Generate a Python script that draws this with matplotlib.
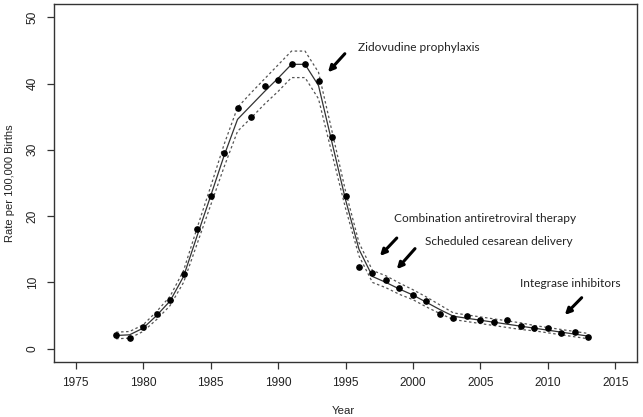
import matplotlib
matplotlib.use("Agg")
import matplotlib.pyplot as plt

years = list(range(1978, 2014))
observed = [2.1, 1.6, 3.3, 5.2, 7.3, 11.3, 18.0, 23.1, 29.5, 36.3, 34.9, 39.6,
            40.5, 42.9, 42.9, 40.4, 31.9, 23.0, 12.3, 11.4, 10.3, 9.2, 8.1, 7.2,
            5.3, 4.6, 5.0, 4.4, 4.1, 4.4, 3.5, 3.2, 3.1, 2.3, 2.6, 1.8]
fitted = [2.0, 2.1, 3.1, 5.0, 7.2, 10.9, 17.0, 23.0, 29.1, 34.6, 36.7, 38.8,
          40.8, 42.9, 42.9, 39.7, 31.1, 22.5, 15.0, 10.9, 10.0, 9.0, 8.1, 7.0,
          5.9, 4.9, 4.6, 4.3, 4.0, 3.7, 3.4, 3.1, 2.8, 2.5, 2.2, 1.9]
upper = [2.5, 2.6, 3.6, 5.6, 7.9, 11.8, 18.2, 24.4, 30.8, 36.4, 38.6, 40.7,
         42.8, 44.9, 44.9, 41.7, 32.8, 23.8, 16.0, 11.8, 11.0, 9.9, 8.9, 7.8,
         6.6, 5.4, 5.1, 4.8, 4.5, 4.2, 3.9, 3.5, 3.2, 2.9, 2.6, 2.3]
lower = [1.5, 1.6, 2.6, 4.4, 6.5, 10.0, 15.8, 21.6, 27.4, 32.8, 34.8, 36.9,
         38.8, 40.9, 40.9, 37.7, 29.4, 21.2, 14.0, 10.0, 9.2, 8.2, 7.4, 6.3,
         5.3, 4.4, 4.1, 3.8, 3.5, 3.2, 2.9, 2.7, 2.4, 2.1, 1.8, 1.5]

events = ["Zidovudine prophylaxis", "Combination antiretroviral therapy",
          "Scheduled cesarean delivery", "Integrase inhibitors"]
event_text_xy = [(1995.9, 45.5), (1998.6, 19.6), (2000.9, 16.2), (2007.95, 9.9)]
event_tail = [(1994.95, 44.5), (1998.8, 16.7), (2000.15, 15.1), (2012.5, 7.7)]
event_tip = [(1993.7, 41.7), (1997.55, 14.0), (1998.8, 12.0), (2011.25, 5.1)]

xticks = [1975, 1980, 1985, 1990, 1995, 2000, 2005, 2010, 2015]
yticks = [0, 10, 20, 30, 40, 50]

plt.rcParams['font.family'] = ['Liberation Sans', 'DejaVu Sans']

fig = plt.figure(figsize=(6.43, 4.17), dpi=100)
ax = fig.add_axes([54/643, 1-362/417, (637-54)/643, (362-4)/417])

ax.plot(years, upper, color='#555555', lw=0.9, linestyle=(0, (2, 2)))
ax.plot(years, lower, color='#555555', lw=0.9, linestyle=(0, (2, 2)))
ax.plot(years, fitted, color='#333333', lw=0.9)
ax.plot(years, observed, 'o', color='black', markersize=3.8)

for txt, txy, tail, tip in zip(events, event_text_xy, event_tail, event_tip):
    ax.text(txy[0], txy[1], txt, family=['Lato', 'DejaVu Sans'], fontsize=8.6,
            ha='left', va='center', color='#222222')
    ax.annotate('', xy=tip, xytext=tail,
                arrowprops=dict(arrowstyle='-|>', lw=2.2, color='black',
                                mutation_scale=9, shrinkA=0, shrinkB=0))

ax.set_xlim(1973.4, 2016.6)
ax.set_ylim(-2, 52)
ax.set_xticks(xticks)
ax.set_yticks(yticks)
ax.set_yticklabels([str(v) for v in yticks], rotation=90, va='center')
ax.tick_params(axis='both', direction='out', length=5, width=0.9,
               colors='#333333', labelsize=8.6, labelcolor='#222222')
ax.tick_params(axis='x', pad=6)
ax.tick_params(axis='y', pad=6)
for s in ax.spines.values():
    s.set_color('#333333')
    s.set_linewidth(1.0)

fig.text(343/643, 1-411/417, 'Year', ha='center', va='center', fontsize=8.2, color='#222222')
fig.text(10/643, 1-183/417, 'Rate per 100,000 Births', ha='center', va='center',
         rotation=90, fontsize=8, color='#222222')

fig.savefig('out.png', dpi=100)
